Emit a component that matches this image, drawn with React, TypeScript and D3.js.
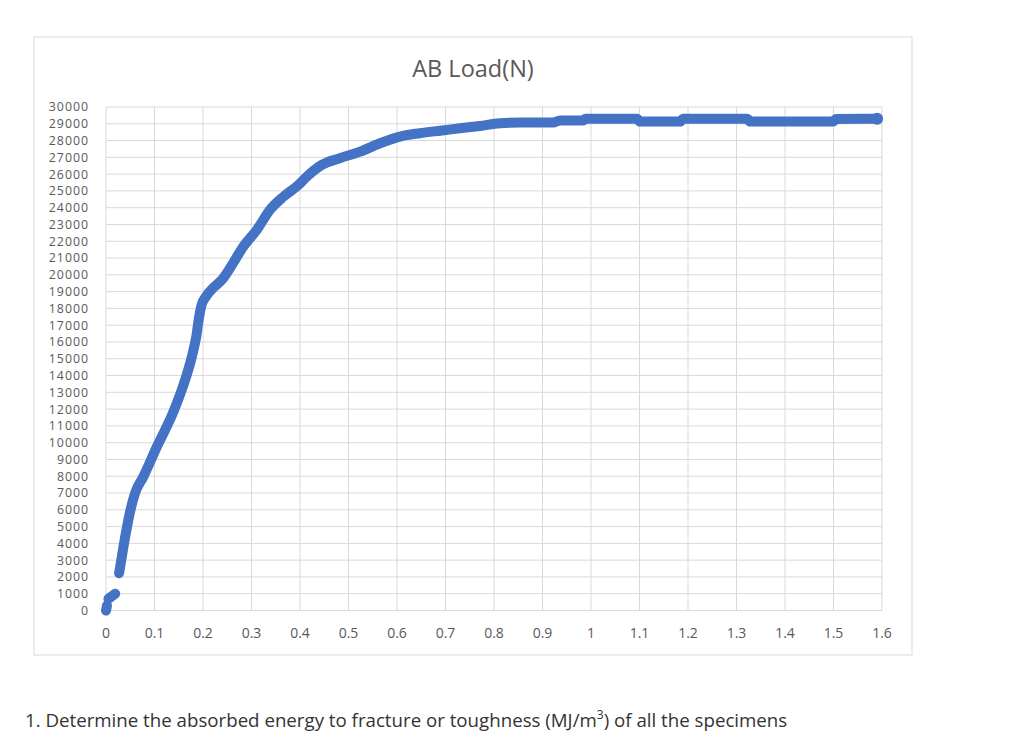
import React from "react";
import * as d3 from "d3";

// ---- data ----
const strain = [
  0, 0.002,
  0.005, 0.012, 0.019,
  0.027, 0.036, 0.049, 0.06, 0.077, 0.105, 0.138, 0.158, 0.177, 0.186, 0.192, 0.197, 0.206, 0.222, 0.239,
  0.262, 0.283, 0.311, 0.338, 0.366, 0.397, 0.414, 0.445, 0.482, 0.524, 0.565, 0.606, 0.647, 0.689,
  0.73, 0.771, 0.812, 0.854, 0.922, 0.936, 0.984, 0.988, 1.095, 1.101, 1.184, 1.19, 1.322, 1.328,
  1.499, 1.505, 1.59,
];
const load = [
  0, 300,
  700, 850, 1000,
  2220, 3800, 5800, 7000, 7970, 9760, 11770, 13300, 15120, 16300, 17500, 18200, 18700, 19250, 19700,
  20700, 21680, 22680, 23870, 24660, 25360, 25850, 26550, 26950, 27340, 27840, 28240, 28440, 28590,
  28730, 28870, 29030, 29070, 29070, 29200, 29200, 29300, 29300, 29130, 29130, 29300, 29300, 29130,
  29130, 29280, 29300,
];
const segment = [
  0, 0,
  1, 1, 1,
  2, 2, 2, 2, 2, 2, 2, 2, 2, 2, 2, 2, 2, 2, 2,
  2, 2, 2, 2, 2, 2, 2, 2, 2, 2, 2, 2, 2, 2,
  2, 2, 2, 2, 2, 2, 2, 2, 2, 2, 2, 2, 2, 2,
  2, 2, 2,
];
const xTicks = [0, 0.1, 0.2, 0.3, 0.4, 0.5, 0.6, 0.7, 0.8, 0.9, 1, 1.1, 1.2, 1.3, 1.4, 1.5, 1.6];
const xTickLabels = ["0", "0.1", "0.2", "0.3", "0.4", "0.5", "0.6", "0.7", "0.8", "0.9", "1", "1.1", "1.2", "1.3", "1.4", "1.5", "1.6"];
const yTicks = d3.range(0, 30001, 1000);
const title = "AB Load(N)";

export default function App() {
  const x = d3.scaleLinear().domain([0, 1.6]).range([106, 882]);
  const y = d3.scaleLinear().domain([0, 30000]).range([610.5, 107]);
  const pts = strain.map((s, i) => ({ s, l: load[i], g: segment[i] }));
  const groups = d3.groups(pts, (d) => d.g);
  const line = d3
    .line<{ s: number; l: number }>()
    .x((d) => x(d.s))
    .y((d) => y(d.l))
    .curve(d3.curveMonotoneX);
  const labelColor = "#595959";
  const font = "'Open Sans', sans-serif";
  const last = pts[pts.length - 1];
  return (
    <svg
      width={1024}
      height={747}
      style={{ position: "absolute", left: 0, top: 0, background: "#fff" }}
    >
      <rect x={34} y={37} width={878} height={618} fill="#fff" stroke="#d9d9d9" strokeWidth={1} />
      <text x={473} y={77} textAnchor="middle" fontFamily={font} fontSize={23.5} fill={labelColor}>
        {title}
      </text>
      {yTicks.map((t) => (
        <line key={"h" + t} x1={x(0)} x2={x(1.6)} y1={y(t)} y2={y(t)} stroke="#d9d9d9" strokeWidth={1} />
      ))}
      {xTicks.map((t) => (
        <line key={"v" + t} x1={x(t)} x2={x(t)} y1={y(0)} y2={y(30000)} stroke="#d9d9d9" strokeWidth={1} />
      ))}
      {yTicks.map((t) => (
        <text
          key={"yl" + t}
          x={89}
          y={y(t)}
          dy="0.36em"
          textAnchor="end"
          fontFamily={font}
          fontSize={12.3}
          letterSpacing={1}
          fill={labelColor}
        >
          {t}
        </text>
      ))}
      {xTicks.map((t, i) => (
        <text
          key={"xl" + t}
          x={x(t)}
          y={638}
          textAnchor="middle"
          fontFamily={font}
          fontSize={14}
          fill={labelColor}
        >
          {xTickLabels[i]}
        </text>
      ))}
      {groups.map(([g, arr]) => (
        <path
          key={"s" + g}
          d={line(arr) || ""}
          fill="none"
          stroke="#4472C4"
          strokeWidth={10}
          strokeLinecap="round"
          strokeLinejoin="round"
        />
      ))}
      <circle cx={x(last.s)} cy={y(last.l)} r={6} fill="#4472C4" />
      <text x={25} y={727} fontFamily={font} fontSize={18.7} fill="#333">
        1. Determine the absorbed energy to fracture or toughness (MJ/m
        <tspan dy={-8} fontSize={12}>3</tspan>
        <tspan dy={8}>) of all the specimens</tspan>
      </text>
    </svg>
  );
}
